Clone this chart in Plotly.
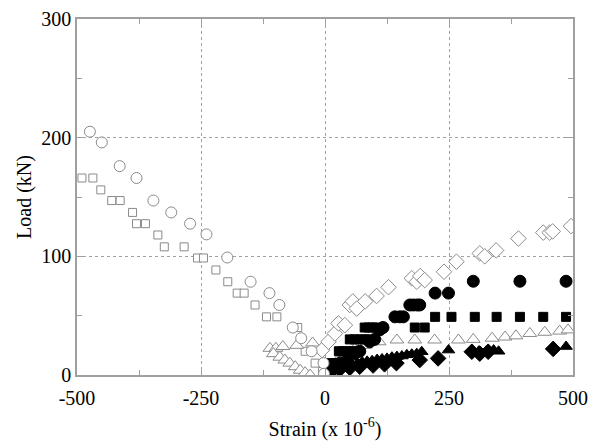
import plotly.graph_objects as go

# ---------------- data (strain x1e-6, load kN) ----------------
circ_open_x = [-474, -450, -414, -380, -346, -310, -272, -239, -197, -150, -112, -92, -65, -48, -27, -3, -2]
circ_open_y = [205, 196, 176, 166, 147, 137, 127.5, 118.5, 99, 78.6, 69, 59, 40, 31, 20, 10, 1]

sq_open_x = [-490, -468, -452, -430, -413, -388, -380, -362, -337, -324, -284, -257, -245,
             -220, -196, -177, -163, -141, -118, -97, -55, -40, -20, -5]
sq_open_y = [166, 166, 156, 147, 147, 137, 127.5, 127.5, 118, 108, 108, 98.6, 98.6,
             88.5, 78.6, 69, 69, 59, 49, 49, 40, 20, 10, 3]

tri_open_x = [-111, -99, -85, -104, -91, -81, -71, -60, -50, -40, -30, -57, -25,
              10, 25, 40, 60, 80, 109, 145, 181, 221, 269, 299, 337, 363, 385, 413, 443, 473, 490]
tri_open_y = [22.5, 22.5, 24, 18, 15, 12.6, 10, 7, 4, 2, 0, 25, 27,
              5, 12, 18, 22, 25, 28, 29.5, 29.5, 29.5, 29.5, 30, 31, 32, 33, 35, 36, 37, 38]

dia_open_x = [-6, 7, 20, 27, 40, 50, 56, 64, 81, 104, 128, 175, 185, 192, 201, 240, 265,
              312, 322, 345, 390, 440, 453, 459, 496]
dia_open_y = [21, 28, 35, 43.5, 42, 59, 62, 56, 62, 66.6, 74, 81.5, 78.6, 83.4, 80, 87, 95.5,
              102.5, 100, 105, 115, 120, 120, 121, 125.5]

circ_fill_x = [5, 15, 30, 45, 60, 70, 90, 100, 110, 117, 141, 151, 158, 171, 178, 186, 191,
               222, 249, 299, 393, 486]
circ_fill_y = [0, 5, 10, 12, 18, 20, 28, 30, 38, 40, 49, 49, 49, 59, 59, 59, 59,
               69, 69, 79, 79, 79]

sq_fill_x = [5, 12, 20, 25, 28, 36, 45, 55, 62, 50, 60, 70, 80, 88, 80, 88, 96, 104,
             181, 201, 222, 255, 302, 346, 393, 440, 486]
sq_fill_y = [5, 10, 10, 10, 20, 20, 20, 20, 20, 30, 30, 30, 30, 30, 40, 40, 40, 40,
             40, 40, 49, 49, 49, 49, 49, 49, 49]

tri_fill_x = [5, 15, 25, 35, 45, 55, 65, 75, 85, 95, 105, 115, 125, 135, 145, 155, 165,
              175, 185, 195, 249, 296, 310, 325, 340, 350, 486]
tri_fill_y = [3, 5, 6, 7, 8, 9, 10, 11, 11.5, 12, 13, 13.5, 14, 15, 15.5, 16, 17,
              17.5, 18, 19.6, 21, 21, 20, 20, 21, 20, 24]

dia_fill_x = [5, 15, 30, 50, 70, 97, 120, 144, 191, 228, 296, 312, 329, 460]
dia_fill_y = [2, 4, 5, 6, 7, 8, 9, 10, 12.6, 14, 19.6, 18, 19.6, 22]

x_ticks = [-500, -250, 0, 250, 500]
x_labels = ["-500", "-250", "0", "250", "500"]
y_ticks = [0, 100, 200, 300]
y_labels = ["0", "100", "200", "300"]

GREY = "#8a8a8a"
AX = "#a0a0a0"
FONT = "Liberation Serif"
fig = go.Figure()

def add(x, y, symbol, size, fill, line):
    fig.add_trace(go.Scatter(x=x, y=y, mode="markers",
                             marker=dict(symbol=symbol, size=size, color=fill,
                                         line=dict(color=line, width=1)),
                             showlegend=False))

add(sq_open_x, sq_open_y, "square", 8, "white", GREY)
add(tri_open_x, tri_open_y, "triangle-up", 12, "white", GREY)
add(circ_fill_x, circ_fill_y, "circle", 12, "black", "black")
add(sq_fill_x, sq_fill_y, "square", 9, "black", "black")
add(tri_fill_x, tri_fill_y, "triangle-up", 11, "black", "black")
add(dia_fill_x, dia_fill_y, "diamond", 12, "black", "black")
add(dia_open_x, dia_open_y, "diamond", 12, "white", GREY)
add(circ_open_x, circ_open_y, "circle", 11, "white", GREY)

axis_common = dict(
    showline=True, linecolor=AX, linewidth=1.5, mirror="allticks",
    ticks="inside", ticklen=7, tickcolor=AX, tickwidth=1,
    showgrid=True, gridcolor=AX, griddash="dot", gridwidth=1,
    zeroline=False,
    tickfont=dict(family=FONT, size=20, color="black"),
)

fig.update_xaxes(range=[-500, 500], tickvals=x_ticks, ticktext=x_labels,
                 ticklabelstandoff=4,
                 minor=dict(ticks="inside", ticklen=5, tickcolor=AX, dtick=125, tick0=-500, showgrid=False),
                 title=dict(text="Strain (x 10<sup>-6</sup>)", standoff=14,
                            font=dict(family=FONT, size=20, color="black")),
                 **axis_common)
fig.update_yaxes(range=[0, 300], tickvals=y_ticks, ticktext=y_labels,
                 minor=dict(ticks="inside", ticklen=5, tickcolor=AX, dtick=50, tick0=0, showgrid=False),
                 title=dict(text="Load (kN)", standoff=4,
                            font=dict(family=FONT, size=20, color="black")),
                 **axis_common)

fig.update_layout(width=598, height=442, plot_bgcolor="white", paper_bgcolor="white",
                  margin=dict(l=77, r=25, t=19, b=67, autoexpand=False))
fig.write_html("out.html", config={"displayModeBar": False},
               post_script="document.body.style.margin='0';")
